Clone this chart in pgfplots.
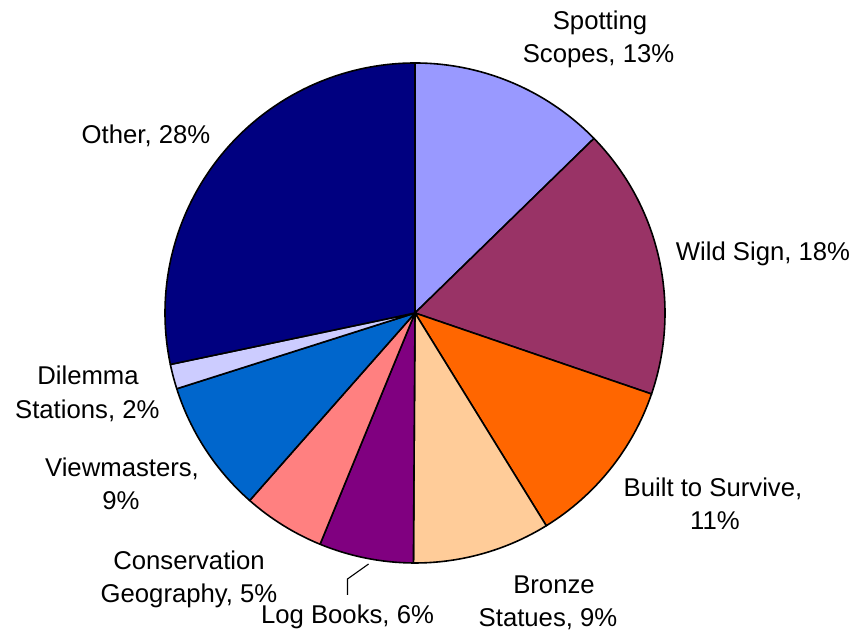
\documentclass[border=0pt]{standalone}
\usepackage{pgfplots}
\pgfplotsset{compat=1.18}
\usepackage{pgfplotstable}
\usepackage{fontspec}
\setmainfont{Liberation Sans}
\definecolor{c0}{HTML}{9999FF}
\definecolor{c1}{HTML}{993366}
\definecolor{c2}{HTML}{FF6600}
\definecolor{c3}{HTML}{FFCC99}
\definecolor{c4}{HTML}{800080}
\definecolor{c5}{HTML}{FF8080}
\definecolor{c6}{HTML}{0066CC}
\definecolor{c7}{HTML}{CCCCFF}
\definecolor{c8}{HTML}{000080}
% slice shares in percent, clockwise from the top
\pgfplotstableread{
idx pct
0 12.7
1 17.55
2 10.95
3 8.9
4 6.1
5 5.3
6 8.6
7 1.6
8 28.3
}\piedata
\gdef\pieacc{0}
\foreach \i in {0,...,8}{%
  \pgfplotstablegetelem{\i}{pct}\of\piedata
  \pgfmathsetmacro\pieA{90-3.6*\pieacc}%
  \pgfmathsetmacro\pieN{\pieacc+\pgfplotsretval}%
  \pgfmathsetmacro\pieB{90-3.6*\pieN}%
  \expandafter\xdef\csname sa\i\endcsname{\pieA}%
  \expandafter\xdef\csname ea\i\endcsname{\pieB}%
  \xdef\pieacc{\pieN}%
}
\newcommand\lbl{\fontsize{25.7}{33}\selectfont}
\begin{document}
\begin{tikzpicture}
\begin{axis}[x=1pt, y=1pt, xmin=0, xmax=857, ymin=0, ymax=632,
  hide axis, clip=false]
\path (axis cs:0,0) rectangle (axis cs:857,632);
\pgfplotsinvokeforeach{0,...,8}{
  \filldraw[fill=c#1, draw=black, line width=1.6pt, line join=round]
    (axis cs:415,319) -- ++({\csname sa#1\endcsname}:250pt)
    arc[start angle=\csname sa#1\endcsname, end angle=\csname ea#1\endcsname, radius=250pt] -- cycle;
}
\addplot[black, line width=1.1pt, mark=none] coordinates {(368.6,68) (347.5,53) (347.5,37)};
\node[anchor=base, font=\lbl] at (axis cs:600,602.7) {Spotting};
\node[anchor=base, font=\lbl] at (axis cs:598.5,569) {Scopes, 13\%};
\node[anchor=base, font=\lbl] at (axis cs:763,371.3) {Wild Sign, 18\%};
\node[anchor=base, font=\lbl] at (axis cs:713,135.3) {Built to Survive,};
\node[anchor=base, font=\lbl] at (axis cs:715,102) {11\%};
\node[anchor=base, font=\lbl] at (axis cs:554,38) {Bronze};
\node[anchor=base, font=\lbl] at (axis cs:548,5) {Statues, 9\%};
\node[anchor=base, font=\lbl] at (axis cs:347.5,8) {Log Books, 6\%};
\node[anchor=base, font=\lbl] at (axis cs:189,62.5) {Conservation};
\node[anchor=base, font=\lbl] at (axis cs:189,29) {Geography, 5\%};
\node[anchor=base, font=\lbl] at (axis cs:122,155.3) {Viewmasters,};
\node[anchor=base, font=\lbl] at (axis cs:121,122) {9\%};
\node[anchor=base, font=\lbl] at (axis cs:88,247) {Dilemma};
\node[anchor=base, font=\lbl] at (axis cs:87.3,213.7) {Stations, 2\%};
\node[anchor=base, font=\lbl] at (axis cs:146,488.7) {Other, 28\%};
\end{axis}
\end{tikzpicture}
\end{document}
